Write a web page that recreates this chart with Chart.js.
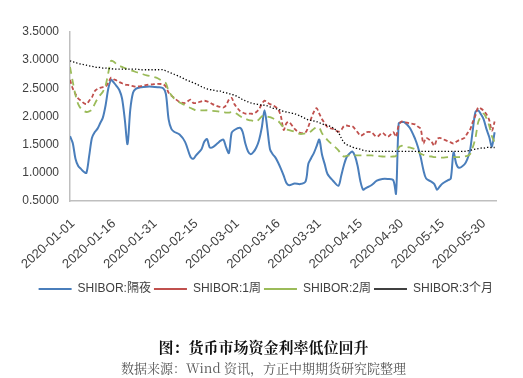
<!DOCTYPE html>
<html>
<head>
<meta charset="utf-8">
<script src="https://cdn.jsdelivr.net/npm/chart.js@4.4.1/dist/chart.umd.min.js"></script>
<style>
  html, body { margin: 0; padding: 0; background: #fff; }
  #wrap { position: relative; width: 523px; height: 378px; overflow: hidden; }
  #c { position: absolute; left: 0; top: 0; }
  .cap { position: absolute; left: 0; width: 523px; text-align: center; font-family: 'Noto Serif CJK SC', 'Liberation Serif', 'Noto Sans CJK SC', serif; white-space: nowrap; }
  #t1 { top: 337px; left: 2px; font-size: 15px; font-weight: bold; color: #111; line-height: 20px; }
  #t2 { top: 359px; left: 2px; font-size: 13px; color: #555; line-height: 18px; }
</style>
</head>
<body>
<div id="wrap">
  <canvas id="c" width="523" height="378"></canvas>
  <div class="cap" id="t1">图：货币市场资金利率低位回升</div>
  <div class="cap" id="t2">数据来源：Wind 资讯，方正中期期货研究院整理</div>
</div>
<script>
const dates = [
 '2020-01-01','2020-01-02','2020-01-03','2020-01-04','2020-01-05','2020-01-06','2020-01-07','2020-01-08','2020-01-09','2020-01-10',
 '2020-01-11','2020-01-12','2020-01-13','2020-01-14','2020-01-15','2020-01-16','2020-01-17','2020-01-18','2020-01-19','2020-01-20',
 '2020-01-21','2020-01-22','2020-01-23','2020-01-24','2020-01-25','2020-01-27','2020-01-29','2020-01-31',
 '2020-02-02','2020-02-04','2020-02-05','2020-02-06','2020-02-07','2020-02-08','2020-02-10','2020-02-12','2020-02-14','2020-02-15',
 '2020-02-16','2020-02-18','2020-02-19','2020-02-20','2020-02-21','2020-02-22','2020-02-24','2020-02-25','2020-02-26','2020-02-27',
 '2020-02-28','2020-02-29',
 '2020-03-01','2020-03-03','2020-03-04','2020-03-05','2020-03-06','2020-03-07','2020-03-08','2020-03-09','2020-03-10','2020-03-11',
 '2020-03-12','2020-03-13','2020-03-14','2020-03-15','2020-03-16','2020-03-17','2020-03-18','2020-03-19','2020-03-20','2020-03-21',
 '2020-03-23','2020-03-25','2020-03-27','2020-03-28','2020-03-29','2020-03-30','2020-03-31',
 '2020-04-01','2020-04-02','2020-04-03','2020-04-04','2020-04-06','2020-04-08','2020-04-09','2020-04-10','2020-04-11','2020-04-12',
 '2020-04-13','2020-04-14','2020-04-15','2020-04-16','2020-04-17','2020-04-18','2020-04-20','2020-04-22','2020-04-24','2020-04-26',
 '2020-04-28','2020-04-29','2020-04-30',
 '2020-05-01','2020-05-02','2020-05-04','2020-05-06','2020-05-07','2020-05-08','2020-05-09','2020-05-10','2020-05-12','2020-05-13',
 '2020-05-14','2020-05-15','2020-05-16','2020-05-18','2020-05-19','2020-05-20','2020-05-21','2020-05-22','2020-05-24','2020-05-25',
 '2020-05-26','2020-05-27','2020-05-28','2020-05-29','2020-05-30','2020-05-31',
 '2020-06-01','2020-06-02','2020-06-03','2020-06-04'
];

const shiborON = [
 1.65,1.53,1.25,1.12,1.07,1.02,1.00,1.30,1.62,1.72,
 1.78,1.88,1.98,2.20,2.50,2.65,2.60,2.54,2.47,2.32,
 1.95,1.51,2.12,2.42,2.49,2.52,2.53,2.53,
 2.52,2.50,2.40,1.95,1.78,1.73,1.68,1.55,1.28,1.25,
 1.31,1.42,1.55,1.60,1.45,1.45,1.53,1.57,1.59,1.45,
 1.35,1.71,
 1.76,1.80,1.73,1.52,1.38,1.33,1.37,1.45,1.58,1.80,
 2.11,1.80,1.42,1.33,1.27,1.18,1.07,0.95,0.82,0.78,
 0.81,0.80,0.85,1.16,1.26,1.35,1.47,
 1.59,1.32,1.15,0.98,0.86,0.77,0.95,1.14,1.28,1.34,
 1.38,1.30,1.12,0.85,0.70,0.73,0.78,0.86,0.89,0.89,
 0.87,0.63,1.88,
 1.90,1.90,1.80,1.60,1.46,1.28,1.05,0.90,0.84,0.80,
 0.70,0.76,0.81,0.87,0.90,1.36,1.16,1.09,1.15,1.24,
 1.39,1.75,2.08,2.11,2.04,1.95,
 1.78,1.64,1.47,1.72
];

const shibor1W = [
 2.65,2.50,2.40,2.32,2.28,2.24,2.22,2.28,2.34,2.45,
 2.49,2.51,2.52,2.53,2.60,2.69,2.66,2.64,2.61,2.59,
 2.57,2.56,2.55,2.54,2.53,2.54,2.56,2.57,
 2.58,2.57,2.53,2.42,2.37,2.33,2.26,2.24,2.30,2.24,
 2.24,2.27,2.28,2.27,2.25,2.22,2.18,2.17,2.16,2.20,
 2.30,2.33,
 2.22,2.10,2.07,2.05,2.05,2.05,2.05,2.08,2.13,2.22,
 2.28,2.25,2.22,2.20,2.17,2.13,2.00,1.76,1.88,1.90,
 1.78,1.71,1.72,1.82,1.96,2.08,2.15,
 2.05,1.95,1.88,1.81,1.78,1.73,1.76,1.83,1.84,1.83,
 1.83,1.78,1.72,1.66,1.68,1.72,1.72,1.64,1.71,1.64,
 1.72,1.64,1.85,
 1.91,1.90,1.88,1.86,1.82,1.78,1.52,1.62,1.55,1.48,
 1.60,1.62,1.60,1.56,1.54,1.52,1.55,1.58,1.62,1.70,
 1.76,1.90,2.02,2.16,2.14,2.10,
 2.04,1.94,1.75,1.91
];

const shibor2W = [
 2.88,2.62,2.38,2.22,2.14,2.10,2.08,2.09,2.12,2.22,
 2.31,2.38,2.44,2.55,2.78,2.99,2.97,2.93,2.90,2.88,
 2.86,2.84,2.82,2.81,2.79,2.76,2.73,2.71,
 2.68,2.62,2.59,2.45,2.38,2.32,2.25,2.20,2.15,2.13,
 2.11,2.11,2.11,2.11,2.10,2.10,2.09,2.08,2.08,2.07,
 2.07,2.08,
 2.07,2.01,1.98,1.96,1.94,1.93,1.92,1.91,1.95,2.00,
 2.02,2.00,1.99,1.97,1.94,1.92,1.86,1.81,1.77,1.76,
 1.73,1.69,1.70,1.71,1.74,1.78,1.81,
 1.80,1.70,1.64,1.58,1.49,1.40,1.32,1.29,1.30,1.31,
 1.31,1.31,1.31,1.31,1.31,1.31,1.31,1.30,1.29,1.29,
 1.29,1.30,1.45,
 1.48,1.47,1.45,1.42,1.38,1.34,1.32,1.30,1.29,1.28,
 1.28,1.27,1.27,1.28,1.28,1.28,1.28,1.28,1.29,1.30,
 1.33,1.45,1.62,1.90,2.00,2.05,
 1.97,1.84,1.65,1.54
];

const shibor3M = [
 2.99,2.97,2.96,2.94,2.93,2.92,2.91,2.90,2.89,2.88,
 2.87,2.87,2.86,2.86,2.85,2.85,2.84,2.84,2.84,2.84,
 2.84,2.84,2.84,2.84,2.84,2.83,2.83,2.83,
 2.83,2.83,2.81,2.79,2.77,2.75,2.71,2.66,2.62,2.60,
 2.58,2.53,2.51,2.49,2.48,2.47,2.45,2.45,2.43,2.42,
 2.41,2.39,
 2.38,2.33,2.30,2.28,2.26,2.24,2.23,2.22,2.21,2.20,
 2.20,2.19,2.17,2.15,2.14,2.13,2.11,2.09,2.08,2.07,
 2.05,2.01,1.96,1.94,1.93,1.92,1.91,
 1.89,1.87,1.85,1.84,1.80,1.71,1.62,1.54,1.50,1.48,
 1.46,1.44,1.43,1.42,1.40,1.39,1.38,1.38,1.38,1.38,
 1.38,1.38,1.38,
 1.38,1.38,1.38,1.38,1.38,1.38,1.38,1.38,1.38,1.38,
 1.38,1.38,1.38,1.38,1.38,1.38,1.38,1.38,1.38,1.39,
 1.40,1.41,1.42,1.43,1.44,1.44,
 1.45,1.45,1.45,1.45
];

const seriesNames = ['SHIBOR:隔夜', 'SHIBOR:1周', 'SHIBOR:2周', 'SHIBOR:3个月'];
const yTicks = [0.5, 1.0, 1.5, 2.0, 2.5, 3.0, 3.5];
const xTickDates = ['2020-01-01','2020-01-16','2020-01-31','2020-02-15','2020-03-01','2020-03-16','2020-03-31','2020-04-15','2020-04-30','2020-05-15','2020-05-30'];

const BASE = Date.UTC(2020, 0, 1);
function dayOf(s) { const p = s.split('-').map(Number); return Math.round((Date.UTC(p[0], p[1]-1, p[2]) - BASE) / 86400000); }
function dateOf(d) { const t = new Date(BASE + d * 86400000); const m = String(t.getUTCMonth()+1).padStart(2,'0'); const dd = String(t.getUTCDate()).padStart(2,'0'); return t.getUTCFullYear() + '-' + m + '-' + dd; }
const xs = dates.map(dayOf);
const pts = arr => arr.map((v, i) => ({ x: xs[i], y: v }));

const FONT = "'Liberation Sans', 'Noto Sans CJK SC', sans-serif";
const TXT = '#404040';

new Chart(document.getElementById('c'), {
  type: 'line',
  data: {
    datasets: [
      { label: seriesNames[0], data: pts(shiborON), borderColor: '#4a7ebb', backgroundColor: '#4a7ebb', borderWidth: 2, tension: 0.3, order: 4 },
      { label: seriesNames[1], data: pts(shibor1W), borderColor: '#c0504d', backgroundColor: '#c0504d', borderWidth: 1.8, borderDash: [4, 2.5], tension: 0.3, order: 3 },
      { label: seriesNames[2], data: pts(shibor2W), borderColor: '#9bbb59', backgroundColor: '#9bbb59', borderWidth: 1.8, borderDash: [7, 5], tension: 0.3, order: 2 },
      { label: seriesNames[3], data: pts(shibor3M), borderColor: '#000000', backgroundColor: '#000000', borderWidth: 1.3, borderDash: [1.3, 2], tension: 0.3, order: 1 }
    ]
  },
  options: {
    responsive: false,
    animation: false,
    devicePixelRatio: 1,
    elements: { point: { radius: 0, hoverRadius: 0 }, line: { fill: false } },
    layout: { padding: { top: 32, right: 27, left: 0, bottom: 73 } },
    plugins: {
      tooltip: { enabled: false },
      legend: {
        position: 'bottom',
        align: 'end',
        labels: {
          usePointStyle: true, pointStyle: 'line', pointStyleWidth: 33,
          font: { family: FONT, size: 12 }, color: TXT, padding: 3, boxHeight: 12,
          sort: (a, b) => a.datasetIndex - b.datasetIndex
        }
      }
    },
    scales: {
      x: {
        type: 'linear', min: 0, max: 155.5,
        afterBuildTicks: s => { s.ticks = xTickDates.map(d => ({ value: dayOf(d) })); },
        afterFit: s => { s.height = 79; },
        ticks: { minRotation: 42, maxRotation: 42, autoSkip: false, padding: 15, labelOffset: 3, color: TXT, font: { family: FONT, size: 13 }, callback: v => dateOf(v) },
        grid: { display: false, drawTicks: false },
        border: { display: true, color: '#bfbfbf', width: 1.5 }
      },
      y: {
        min: 0.5, max: 3.5,
        afterBuildTicks: s => { s.ticks = yTicks.map(v => ({ value: v })); },
        afterFit: s => { s.width = 70; },
        ticks: { padding: 11, color: TXT, font: { family: FONT, size: 12 }, callback: v => Number(v).toFixed(4) },
        grid: { display: false, drawTicks: false },
        border: { display: true, color: '#bfbfbf', width: 1.5 }
      }
    }
  }
});
</script>
</body>
</html>
